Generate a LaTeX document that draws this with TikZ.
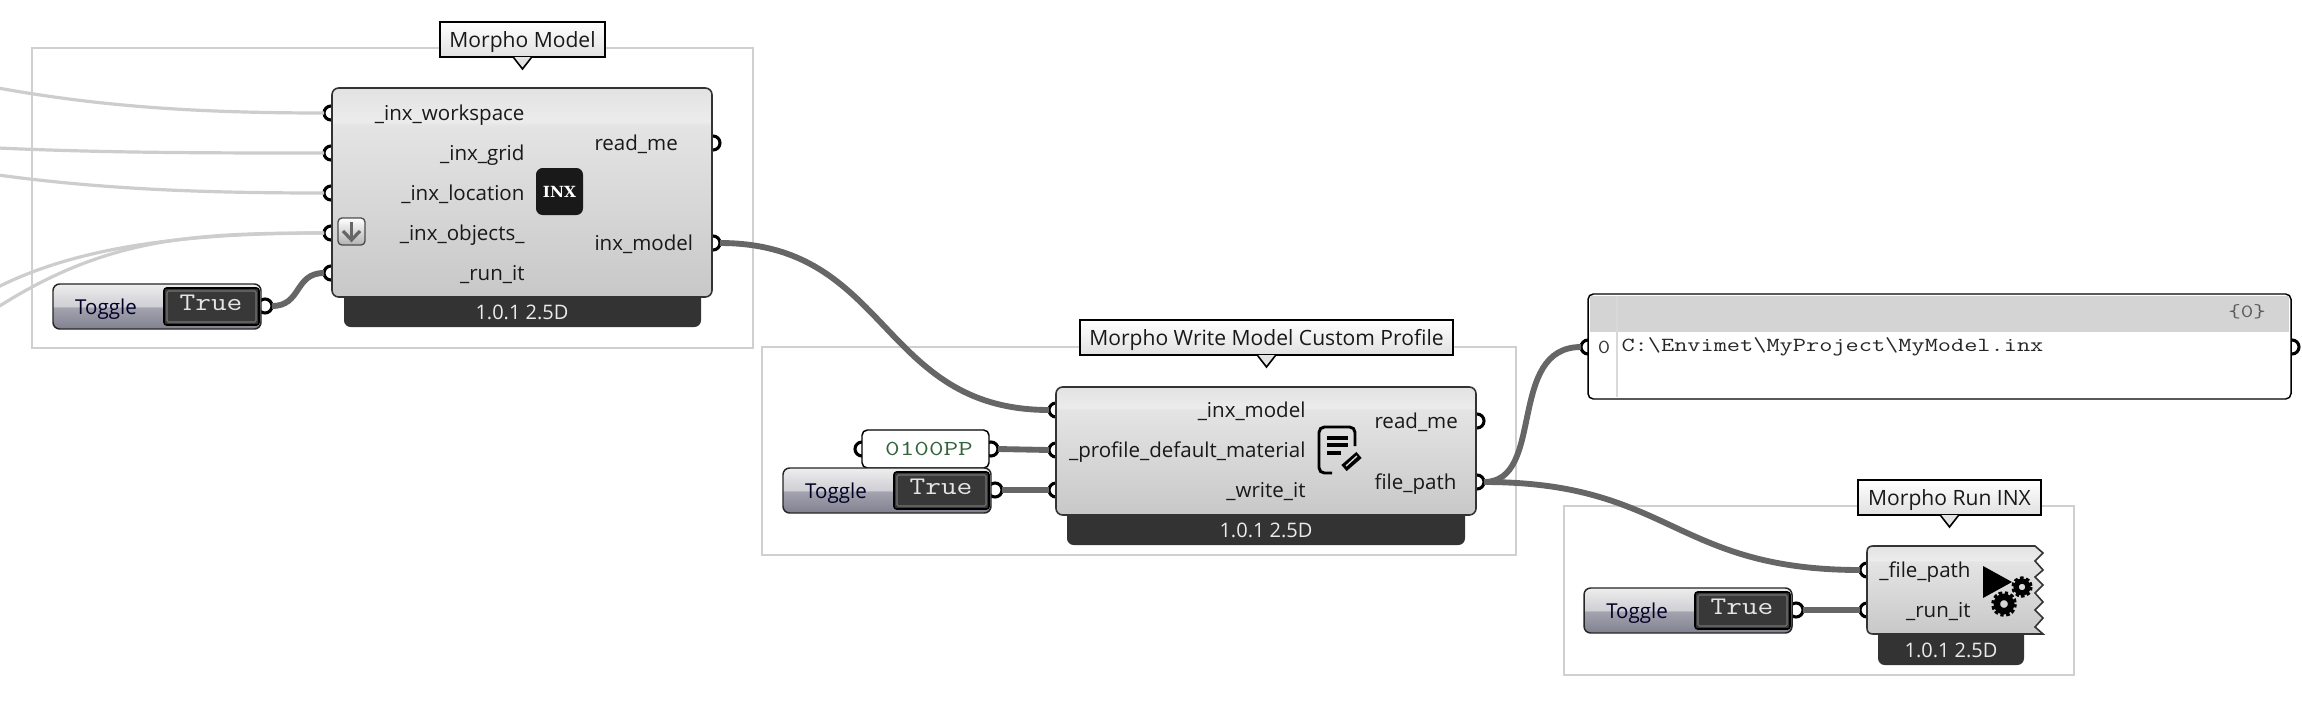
\documentclass[tikz,border=0pt]{standalone}
\usepackage{fontspec}
\usepackage{graphicx}
\setmainfont{Open Sans}
\newfontfamily\inxfont{DejaVu Serif}
\usetikzlibrary{positioning}

\definecolor{cmpLo}{RGB}{200,200,200}
\definecolor{cmpMid}{RGB}{228,228,228}
\definecolor{cmpHi}{RGB}{236,236,236}
\definecolor{cmpTop}{RGB}{226,226,226}
\definecolor{togLo}{RGB}{128,128,144}
\definecolor{togMid}{RGB}{164,164,176}
\definecolor{togHi}{RGB}{206,206,212}
\definecolor{togTop}{RGB}{238,238,238}
\definecolor{wireDark}{RGB}{102,102,102}
\definecolor{wireLight}{RGB}{205,205,205}
\definecolor{frameGray}{RGB}{208,208,208}
\definecolor{footDark}{RGB}{51,51,51}
\definecolor{panelGreen}{RGB}{50,100,60}

\pgfdeclareverticalshading{compshade}{100bp}{color(0bp)=(cmpLo); color(25bp)=(cmpLo); color(66bp)=(cmpMid); color(67bp)=(cmpHi); color(75bp)=(cmpTop); color(100bp)=(cmpTop)}
\pgfdeclareverticalshading{toggleshade}{100bp}{color(0bp)=(togLo); color(25bp)=(togLo); color(49bp)=(togMid); color(50bp)=(togHi); color(75bp)=(togTop); color(100bp)=(togTop)}

\tikzset{
  every picture/.style={line width=0.75pt},
  pxsize/.style 2 args={minimum width=#1*0.75pt,minimum height=#2*0.75pt,inner sep=0pt,outer sep=0pt},
  groupbox/.style={draw=frameGray,line width=1.5pt,fill=white,anchor=north west},
  compbox/.style={draw=black!80,line width=1.2pt,shading=compshade,rounded corners=5pt,anchor=north west},
  footbox/.style={fill=footDark,rounded corners=5pt,anchor=north west,pxsize={#1}{40}},
  tagbox/.style={draw=black,line width=1.2pt,top color=white,bottom color=black!12,inner sep=0pt,minimum height=26pt,font=\fontsize{15.8}{18}\selectfont,text=black!90,text height=13pt,text depth=1.5pt},
  gripnode/.style={circle,draw=black,fill=white,line width=2.3pt,minimum size=10.5pt,inner sep=0pt,outer sep=0pt},
  wire/.style={draw=wireDark,line width=4.4pt},
  wirefaint/.style={draw=wireLight,line width=2.4pt},
  lbl/.style={font=\fontsize{15.4}{18}\selectfont,text=black!90,inner sep=0pt},
  footlbl/.style={font=\fontsize{15}{18}\selectfont,text=white!92!black,inner sep=0pt},
  togbox/.style={draw=black!85,line width=1.1pt,shading=toggleshade,rounded corners=5pt,anchor=north west,pxsize={208}{45}},
  truebox/.style={draw=black,line width=1.2pt,fill=black!78,rounded corners=2pt,anchor=north west,pxsize={95}{37}},
  monolbl/.style={font=\ttfamily\fontsize{19}{20}\selectfont,inner sep=0pt},
}

% toggle with its value box and output grip
\newcommand{\togglesw}[3]{
  \node[gripnode] (#1Out) at (#2+212,#3+22) {};
  \node[togbox] (#1) at (#2,#3) {};
  \node[truebox] (#1Val) at (#2+111,#3+4) {};
  \draw[black!55,line width=0.8pt,rounded corners=1pt] (#2+114,#3+7) rectangle (#2+203,#3+38);
  \node[lbl,anchor=base,text=black!85!blue] (#1Txt) at (#2+53,#3+30) {Toggle};
  \node[monolbl,text=white!90!black] (#1True) at (#2+158,#3+19) {\scalebox{1.2}[1]{True}};
}
% tail under a callout
\newcommand{\tagtail}[1]{
  \fill[black!11] ([xshift=-7pt]#1.south) -- ([yshift=9pt]#1.south) -- ([xshift=7pt]#1.south) -- cycle;
  \draw[line width=1.2pt] ([xshift=-7pt]#1.south) -- ([yshift=9pt]#1.south) -- ([xshift=7pt]#1.south);
}
% gear
\newcommand{\gearicon}[3]{
  \draw[black,line width=#3*0.36pt,dash pattern=on 2.4pt off 1.6pt] (#1,#2) circle[radius=#3*0.88];
  \draw[black,line width=#3*0.42pt] (#1,#2) circle[radius=#3*0.62];
}

\begin{document}
\begin{tikzpicture}[x=0.75pt,y=0.75pt,yscale=-1,xscale=1]
  \useasboundingbox (0,0) rectangle (2302,704);

  % Groups
  \node[groupbox,pxsize={721}{300}] (modelGroup) at (32,48) {};
  \node[groupbox,pxsize={754}{208}] (writeGroup) at (762,347) {};
  \node[groupbox,pxsize={510}{169}] (runGroup) at (1564,506) {};

  % Grips, Morpho Model
  \foreach \n/\y in {Workspace/113,Grid/153,Location/193,Objects/233,Run/273}{
    \node[gripnode] (model\n) at (331,\y) {};
  }
  \node[gripnode] (modelReadme) at (713,143) {};
  \node[gripnode] (modelOut) at (713,243) {};
  % Grips, Morpho Write
  \foreach \n/\y in {Inx/410,Material/450,Write/490}{
    \node[gripnode] (write\n) at (1056,\y) {};
  }
  \node[gripnode] (writeReadme) at (1477,421) {};
  \node[gripnode] (writeOut) at (1477,482) {};
  % Grips, Morpho Run
  \node[gripnode] (runPath) at (1867,570) {};
  \node[gripnode] (runIt) at (1867,610) {};
  % Grips, panels
  \node[gripnode] (pathIn) at (1588,347) {};
  \node[gripnode] (pathOut) at (2292,347) {};
  \node[gripnode] (matIn) at (862,449) {};
  \node[gripnode] (matOut) at (991,449) {};

  % Free wire ends
  \coordinate (srcWorkspace) at (-2,88);
  \coordinate (srcGrid) at (-2,148);
  \coordinate (srcLocation) at (-2,175);
  \coordinate (srcObjA) at (-2,287);
  \coordinate (srcObjB) at (-2,307);

  % Panels
  \node[draw=black,line width=1.1pt,fill=white,rounded corners=4pt,anchor=north west,pxsize={127}{38}] (matPanel) at (862,430) {};
  \node[monolbl,text=panelGreen,font=\ttfamily\fontsize{16}{18}\selectfont] (matTxt) at (929,449) {\scalebox{1.33}[1]{0100PP}};
  \node[draw=black,line width=1.1pt,fill=white,rounded corners=4pt,anchor=north west,pxsize={703}{105}] (pathPanel) at (1588,294) {};
  \fill[black!17] (1590,296) rectangle (2289,332);
  \draw[black!15,line width=1pt] (1617,296) -- (1617,397);
  \node[monolbl,font=\ttfamily\fontsize{14}{16}\selectfont,text=black!65] (pathIdx) at (2247,312) {\scalebox{1.3}[1]{\{0\}}};
  \node[monolbl,font=\ttfamily\fontsize{15}{16}\selectfont,text=black!80] (pathZero) at (1604,347) {\scalebox{1.2}[1]{0}};
  \node[monolbl,font=\ttfamily\fontsize{15}{16}\selectfont,text=black!85,anchor=west] (pathTxt) at (1621,347) {\scalebox{1.28}[1]{C:\symbol{92}Envimet\symbol{92}MyProject\symbol{92}MyModel.inx}};

  % Toggles
  \togglesw{modelToggle}{53}{284}
  \togglesw{writeToggle}{783}{468}
  \togglesw{runToggle}{1584}{588}

  % Wires
  \draw[wirefaint] (srcWorkspace) .. controls +(100,18) and +(-130,0) .. (modelWorkspace.west);
  \draw[wirefaint] (srcGrid) .. controls +(110,5) and +(-110,0) .. (modelGrid.west);
  \draw[wirefaint] (srcLocation) .. controls +(110,15) and +(-110,0) .. (modelLocation.west);
  \draw[wirefaint] (srcObjA) .. controls +(80,-40) and +(-140,0) .. (modelObjects.west);
  \draw[wirefaint] (srcObjB) .. controls +(110,-70) and +(-130,0) .. (modelObjects.west);
  \draw[wire] (modelToggleOut.east) .. controls +(30,0) and +(-30,0) .. (modelRun.west);
  \draw[wire] (modelOut.east) .. controls +(170,0) and +(-170,0) .. (writeInx.west);
  \draw[wire] (matOut.east) -- (writeMaterial.west);
  \draw[wire] (writeToggleOut.east) -- (writeWrite.west);
  \draw[wire] (writeOut.east) .. controls +(62,0) and +(-75,0) .. (pathIn.west);
  \draw[wire] (writeOut.east) .. controls +(187,0) and +(-187,0) .. (runPath.west);
  \draw[wire] (runToggleOut.east) -- (runIt.west);

  % Footers
  \node[footbox=357] (modelFoot) at (344,287) {};
  \node[footbox=398] (writeFoot) at (1067,505) {};
  \node[footbox=146] (runFoot) at (1878,625) {};

  % Components
  \node[compbox,pxsize={380}{209}] (modelComp) at (332,88) {};
  \node[compbox,pxsize={420}{128}] (writeComp) at (1056,387) {};
  \draw[draw=black!80,line width=1.2pt,shading=compshade,rounded corners=0pt] (1873,546) -- (2035,546) -- (2043,553) -- (2035,561) -- (2043,570) -- (2035,577) -- (2043,585) -- (2035,593) -- (2043,602) -- (2035,610) -- (2043,618) -- (2035,627) -- (2043,634) -- (1873,634) .. controls (1869,634) and (1867,632) .. (1867,628) -- (1867,552) .. controls (1867,548) and (1869,546) .. (1873,546) -- cycle;

  % Text Node
  \node[lbl,anchor=base east] (modelLblA) at (525,120) {\_inx\_workspace};
  \node[lbl,anchor=base east] (modelLblB) at (525,160) {\_inx\_grid};
  \node[lbl,anchor=base east] (modelLblC) at (525,200) {\_inx\_location};
  \node[lbl,anchor=base east] (modelLblD) at (525,240) {\_inx\_objects\_};
  \node[lbl,anchor=base east] (modelLblE) at (525,280) {\_run\_it};
  \node[lbl,anchor=base west] (modelLblF) at (594,150) {read\_me};
  \node[lbl,anchor=base west] (modelLblG) at (594,250) {inx\_model};
  \node[footlbl] (modelVer) at (522,312) {1.0.1 2.5D};
  \node[lbl,anchor=base east] (writeLblA) at (1306,417) {\_inx\_model};
  \node[lbl,anchor=base east] (writeLblB) at (1306,457) {\_profile\_default\_material};
  \node[lbl,anchor=base east] (writeLblC) at (1306,497) {\_write\_it};
  \node[lbl,anchor=base west] (writeLblD) at (1374,428) {read\_me};
  \node[lbl,anchor=base west] (writeLblE) at (1374,489) {file\_path};
  \node[footlbl] (writeVer) at (1266,530) {1.0.1 2.5D};
  \node[lbl,anchor=base east] (runLblA) at (1971,577) {\_file\_path};
  \node[lbl,anchor=base east] (runLblB) at (1971,617) {\_run\_it};
  \node[footlbl] (runVer) at (1951,650) {1.0.1 2.5D};

  % Callouts
  \node[tagbox,pxsize={165}{35}] (modelTag) at (522.5,39.5) {Morpho Model};
  \tagtail{modelTag}
  \node[tagbox,pxsize={373}{35}] (writeTag) at (1266.5,337.5) {Morpho Write Model Custom Profile};
  \tagtail{writeTag}
  \node[tagbox,pxsize={183}{35}] (runTag) at (1949.5,497.5) {Morpho Run INX};
  \tagtail{runTag}

  % Icon, INX
  \node[fill=black!90,rounded corners=5pt,anchor=north west,pxsize={47}{47}] (inxIcon) at (536,168) {};
  \node[font=\inxfont\bfseries\fontsize{11.5}{12}\selectfont,text=white,inner sep=0pt] (inxTxt) at (559.5,191.5) {INX};
  % Icon, expand arrow
  \node[draw=black!70,line width=1pt,top color=white,bottom color=black!30,rounded corners=3pt,anchor=north west,pxsize={27}{27}] (arrowBox) at (338,218) {};
  \draw[black!60,line width=2.4pt] (351.5,222) -- (351.5,240);
  \draw[black!60,line width=2.4pt] (343,231) -- (351.5,240) -- (360,231);
  % Icon, document
  \draw[black,line width=2.2pt,rounded corners=4pt] (1332,473) -- (1319,473) -- (1319,427) -- (1355,427) -- (1355,446);
  \draw[black,line width=2.3pt] (1327,438) -- (1348,438);
  \draw[black,line width=2.3pt] (1327,445) -- (1348,445);
  \draw[black,line width=2.3pt] (1327,453) -- (1341,453);
  \draw[black,line width=6pt] (1359,455) -- (1344,468);
  \draw[white!85!black,line width=1pt] (1357,456) -- (1346,466);
  % Icon, run
  \fill[black] (1983,566) -- (2012,582) -- (1983,598) -- cycle;
  \gearicon{2022}{587}{9.5}
  \gearicon{2004}{604}{11.5}
\end{tikzpicture}
\end{document}
